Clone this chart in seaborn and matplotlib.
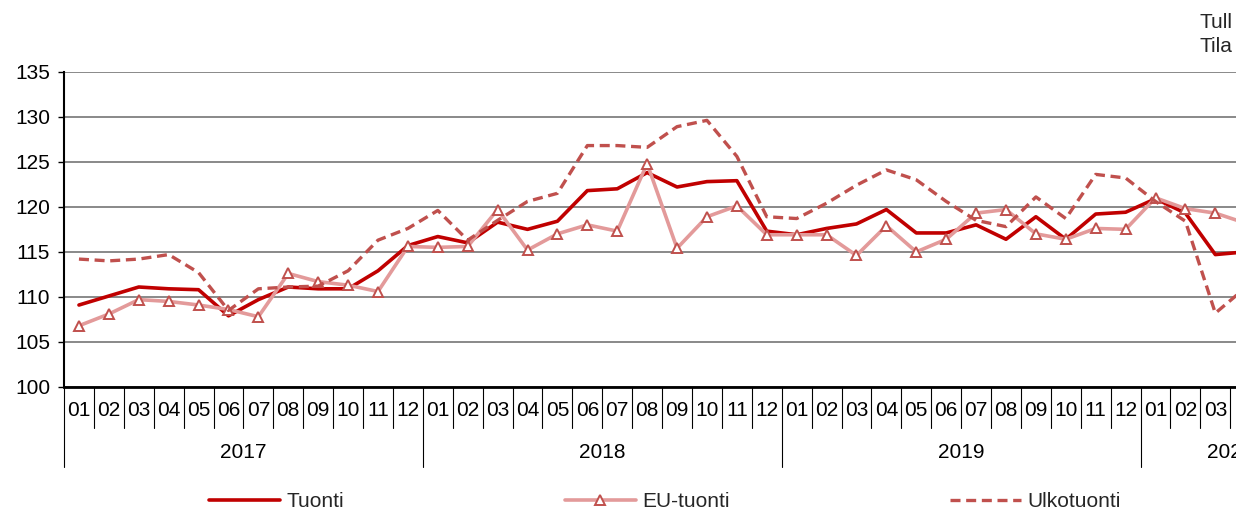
import matplotlib
matplotlib.use("Agg")
import matplotlib.pyplot as plt
import numpy as np
import pandas as pd
import seaborn as sns

# --- data (index) ---
years = ["2017", "2018", "2019", "2020"]
months_in_year = [12, 12, 12, 6]
month_names = ["01", "02", "03", "04", "05", "06", "07", "08", "09", "10", "11", "12"]

tuonti = [109.1, 110.1, 111.1, 110.9, 110.8, 107.9, 109.7, 111.1, 110.9, 110.9, 112.9, 115.7,
          116.7, 116.0, 118.3, 117.5, 118.4, 121.8, 122.0, 123.8, 122.2, 122.8, 122.9, 117.3,
          116.9, 117.6, 118.1, 119.7, 117.1, 117.1, 118.0, 116.4, 118.9, 116.4, 119.2, 119.4,
          120.9, 119.3, 114.7, 115.0]
eu_tuonti = [106.8, 108.1, 109.7, 109.5, 109.1, 108.6, 107.8, 112.6, 111.7, 111.3, 110.6, 115.6,
             115.5, 115.6, 119.7, 115.2, 117.0, 118.0, 117.3, 124.8, 115.4, 118.9, 120.1, 116.9,
             116.9, 116.9, 114.6, 117.9, 115.0, 116.4, 119.3, 119.7, 117.0, 116.4, 117.6, 117.5,
             121.0, 119.8, 119.3, 118.2]
ulkotuonti = [114.2, 114.0, 114.2, 114.7, 112.7, 108.5, 110.9, 111.1, 111.2, 112.9, 116.3, 117.6,
              119.6, 116.3, 118.5, 120.6, 121.5, 126.8, 126.8, 126.6, 128.9, 129.6, 125.6, 118.9,
              118.7, 120.4, 122.4, 124.1, 123.0, 120.6, 118.5, 117.8, 121.1, 118.7, 123.6, 123.2,
              120.6, 118.4, 108.2, 111.0]

df = pd.DataFrame({
    "x": np.arange(len(tuonti)),
    "Tuonti": tuonti,
    "EU-tuonti": eu_tuonti,
    "Ulkotuonti": ulkotuonti,
})

sns.set_theme(style="white")
plt.rcParams["font.family"] = ["Liberation Sans", "DejaVu Sans"]

W, H = 1236, 512
FS = 15
fig = plt.figure(figsize=(W / 100, H / 100), dpi=100)
# plot area runs past the right edge of the picture, like the cropped original
n_months = sum(months_in_year)
ax_left, ax_right = 64, 1320
ax = fig.add_axes([ax_left / W, 125 / H, (ax_right - ax_left) / W, 315.3 / H])

sns.lineplot(data=df, x="x", y="Tuonti", ax=ax, color="#C00000", lw=2.6,
             label="Tuonti", zorder=4)
sns.lineplot(data=df, x="x", y="EU-tuonti", ax=ax, color="#E39A9A", lw=2.6,
             marker="^", markersize=7.5, markerfacecolor="white",
             markeredgecolor="#C0504D", markeredgewidth=1.4,
             label="EU-tuonti", zorder=5)
sns.lineplot(data=df, x="x", y="Ulkotuonti", ax=ax, color="#C0504D", lw=2.4,
             linestyle=(0, (3, 1.7)), label="Ulkotuonti", zorder=6)

ax.set_xlim(-0.5, n_months - 0.5)
ax.set_ylim(100, 135)
ax.set_yticks(range(100, 136, 5))
ax.set_xticks([])
ax.set_xlabel("")
ax.set_ylabel("")
ax.yaxis.grid(True, color="#808080", lw=1.3)
ax.set_axisbelow(True)
for s in ["top", "right"]:
    ax.spines[s].set_visible(False)
ax.spines["left"].set_color("black")
ax.spines["left"].set_linewidth(1.5)
ax.spines["bottom"].set_color("black")
ax.spines["bottom"].set_linewidth(2)
ax.tick_params(axis="y", left=True, length=4, width=1, color="black",
               labelsize=FS, pad=6, labelcolor="black")

# two-level category axis: months and years
tr = ax.get_xaxis_transform()
month_px = (ax_right - ax_left) / n_months
pos = 0
for year, n in zip(years, months_in_year):
    ax.plot([pos - 0.5, pos - 0.5], [0, -0.254], transform=tr, clip_on=False,
            color="black", lw=0.8)
    for m in range(n):
        i = pos + m
        if m > 0:
            ax.plot([i - 0.5, i - 0.5], [0, -0.13], transform=tr, clip_on=False,
                    color="black", lw=0.8)
        # the original is cropped: month labels past the right edge are not shown
        if ax_left + (i + 0.5) * month_px + 12 < W:
            ax.text(i, -0.076, month_names[m], transform=tr, ha="center", va="center",
                    fontsize=FS, color="black")
    ax.text(pos + (n - 1) / 2, -0.209, year, transform=tr, ha="center", va="center",
            fontsize=FS, color="black")
    pos += n

handles, labels = ax.get_legend_handles_labels()
ax.get_legend().remove()
fig.legend(handles, labels, loc="center", bbox_to_anchor=(0.538, 0.02), ncol=3,
           frameon=False, fontsize=FS, handlelength=3.4, handletextpad=0.3,
           columnspacing=10.6, numpoints=1)

fig.text(1200 / W, 1 - 22 / H, "Tull", fontsize=FS, ha="left", va="center")
fig.text(1200 / W, 1 - 47 / H, "Tila", fontsize=FS, ha="left", va="center")

fig.savefig("out.png", dpi=100)
